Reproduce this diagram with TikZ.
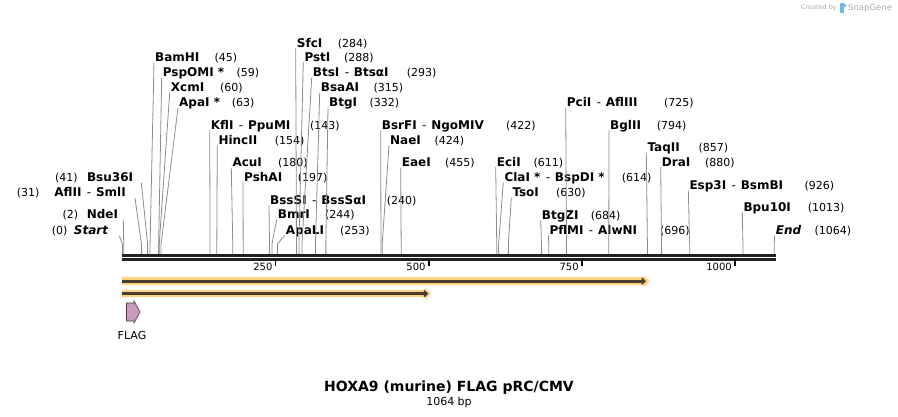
\documentclass[tikz,border=0pt]{standalone}
\usepackage{fontspec}
\setmainfont{DejaVu Sans}
\usetikzlibrary{arrows.meta,positioning}
\definecolor{leadgray}{RGB}{140,140,140}
\definecolor{bbone}{RGB}{34,34,34}
\definecolor{featorange}{RGB}{255,208,128}
\definecolor{featline}{RGB}{72,62,48}
\definecolor{flagpink}{RGB}{204,153,187}
\definecolor{sgblue}{RGB}{110,185,235}
\definecolor{sggray}{RGB}{170,170,170}

% bp -> x position on the backbone
\newcommand{\bpx}[1]{122.5+0.6125*#1}
% separator between isoschizomers
\newcommand{\enzsep}{\mdseries\hspace{0.45em}-\hspace{0.4em}\bfseries}

% site label: id, x, y, name, number x, number, bp
\newcommand{\enzyme}[7]{%
  \node[enz] (#1) at (#2,#3+4.4) {#4};
  \node[num] (#1n) at (#5,#3+4.4) {(#6)};
  \coordinate (#1b) at ({\bpx{#7}},244);
  \coordinate (#1s) at ({\bpx{#7}},254);
  \draw[lead] ([xshift=-1pt,yshift=-1pt]#1.base west) -- (#1b) -- (#1s);
}
% site label set to the left: id, x end, y, name, number x, number, bp, leader shift
\newcommand{\enzymeL}[8]{%
  \node[enz,anchor=base east] (#1) at (#2,#3+4.4) {#4};
  \node[num] (#1n) at (#5,#3+4.4) {(#6)};
  \coordinate (#1b) at ({\bpx{#7}},244);
  \coordinate (#1s) at ({\bpx{#7}},254);
  \draw[lead] ([xshift=#8pt,yshift=-1.5pt]#1.base east) -- (#1b) -- (#1s);
}

\begin{document}
\begin{tikzpicture}[x=1pt,y=-1pt]
  \tikzstyle{enz}=[anchor=base west,inner sep=0pt,font=\bfseries\fontsize{12}{14}\selectfont]
  \tikzstyle{num}=[anchor=base west,inner sep=0pt,font=\fontsize{11}{13}\selectfont]
  \tikzstyle{lead}=[leadgray,line width=0.8pt]
  \tikzstyle{tick}=[black,line width=1.6pt]
  \tikzstyle{band}=[featorange,line width=7.5pt,-{Triangle[length=6pt,width=12pt]}]
  \tikzstyle{feat}=[featline,line width=2.6pt,-{Triangle[length=4.5pt,width=8pt]}]
  \useasboundingbox (0,0) rectangle (898,417);

  % watermark
  \node[anchor=base east,inner sep=0pt,text=sggray,font=\fontsize{6.5}{7}\selectfont] (made) at (837,10) {Created by};
  \fill[sgblue] (840,3) rectangle (843.5,13);
  \fill[sgblue] (843.5,3) -- (846.5,5.5) -- (843.5,8) -- cycle;
  \node[anchor=base west,inner sep=0pt,text=sggray,font=\fontsize{8.5}{9}\selectfont] (sg) at (848,10.5) {SnapGene};

  % backbone
  \coordinate (bbA) at (122,255.3);
  \coordinate (bbB) at (776,255.3);
  \coordinate (bbC) at (122,259.7);
  \coordinate (bbD) at (776,259.7);
  \draw[bbone,line width=2.6pt] (bbA) -- (bbB);
  \draw[bbone,line width=2.6pt] (bbC) -- (bbD);

  % ruler
  \draw[tick] ({\bpx{250}},259) -- ++(0,7.5);
  \draw[tick] ({\bpx{500}},259) -- ++(0,7.5);
  \draw[tick] ({\bpx{750}},259) -- ++(0,7.5);
  \draw[tick] ({\bpx{1000}},259) -- ++(0,7.5);
  \node[num,anchor=base east,font=\fontsize{10}{12}\selectfont] (r250) at ({\bpx{250}-3},271) {250};
  \node[num,anchor=base east,font=\fontsize{10}{12}\selectfont] (r500) at ({\bpx{500}-3},271) {500};
  \node[num,anchor=base east,font=\fontsize{10}{12}\selectfont] (r750) at ({\bpx{750}-3},271) {750};
  \node[num,anchor=base east,font=\fontsize{10}{12}\selectfont] (r1000) at ({\bpx{1000}-3},271) {1000};

  % cut sites, left of the start
  \enzymeL{start}{108.3}{230}{\itshape Start}{51.7}{0}{0}{11}
  \enzymeL{ndei}{118.3}{214.3}{NdeI}{62.3}{2}{2}{5}
  \enzymeL{aflii}{126}{192.3}{AflII\enzsep SmlI}{16.7}{31}{31}{9}
  \enzymeL{bsu}{133.3}{176.7}{Bsu36I}{55}{41}{41}{8}

  % cut sites
  \enzyme{bamhi}{155}{57.3}{BamHI}{214.3}{45}{45}
  \enzyme{pspomi}{162.7}{72.3}{PspOMI *}{236.3}{59}{59}
  \enzyme{xcmi}{170.7}{87.3}{XcmI}{220}{60}{60}
  \enzyme{apai}{179}{102.3}{ApaI *}{231.7}{63}{63}
  \enzyme{kfli}{210.7}{125}{KflI\enzsep PpuMI}{310}{143}{143}
  \enzyme{hincii}{218.3}{140}{HincII}{274.7}{154}{154}
  \enzyme{acui}{232.3}{162.3}{AcuI}{278}{180}{180}
  \enzyme{pshai}{244}{176.7}{PshAI}{297.7}{197}{197}
  \enzyme{bsssi}{270}{200}{BssSI\enzsep BssSαI}{386.7}{240}{240}
  \enzyme{bmri}{277.7}{214.3}{BmrI}{325}{244}{244}
  \enzyme{apali}{285.7}{230}{ApaLI}{340}{253}{253}
  \enzyme{sfci}{296.7}{42.7}{SfcI}{337.7}{284}{284}
  \enzyme{psti}{304.3}{56.7}{PstI}{344}{288}{288}
  \enzyme{btsi}{312.7}{72.3}{BtsI\enzsep BtsαI}{406.7}{293}{293}
  \enzyme{bsaai}{320.7}{87.3}{BsaAI}{373.3}{315}{315}
  \enzyme{btgi}{329}{102.3}{BtgI}{369.3}{332}{332}
  \enzyme{bsrfi}{381.7}{125}{BsrFI\enzsep NgoMIV}{506}{422}{422}
  \enzyme{naei}{390}{140}{NaeI}{434.3}{424}{424}
  \enzyme{eaei}{401.7}{162.3}{EaeI}{445}{455}{455}
  \enzyme{ecii}{496.7}{161.7}{EciI}{533.3}{611}{611}
  \enzyme{clai}{504.3}{177.3}{ClaI *\enzsep BspDI *}{621.7}{614}{614}
  \enzyme{tsoi}{512.3}{192.3}{TsoI}{556}{630}{630}
  \enzyme{btgzi}{541.7}{215}{BtgZI}{590.7}{684}{684}
  \enzyme{pflmi}{549.3}{230}{PflMI\enzsep AlwNI}{660}{696}{696}
  \enzyme{pcii}{566.7}{102.3}{PciI\enzsep AflIII}{664}{725}{725}
  \enzyme{bglii}{610}{125}{BglII}{656.7}{794}{794}
  \enzyme{taqii}{647.3}{147.3}{TaqII}{698.3}{857}{857}
  \enzyme{drai}{661.7}{161.7}{DraI}{705}{880}{880}
  \enzyme{esp}{689.3}{185}{Esp3I\enzsep BsmBI}{804.3}{926}{926}
  \enzyme{bpu}{743.3}{206.7}{Bpu10I}{807.7}{1013}{1013}
  \enzyme{end}{775.7}{230}{\itshape End}{814.3}{1064}{1064}

  % features
  \coordinate (f1a) at (122,281.2);
  \coordinate (f1b) at (649.5,281.2);
  \coordinate (f1c) at (646,281.2);
  \coordinate (f2a) at (122,293.7);
  \coordinate (f2b) at (431,293.7);
  \coordinate (f2c) at (428.3,293.7);
  \draw[band] (f1a) -- (f1b);
  \draw[feat] (f1a) -- (f1c);
  \draw[band] (f2a) -- (f2b);
  \draw[feat] (f2a) -- (f2c);
  \filldraw[fill=flagpink,draw=featline,line width=0.6pt]
    (126.5,303) -- (134,303) -- (134,301) -- (140,312) -- (134,323) -- (134,321) -- (126.5,321) -- cycle;
  \node[num,anchor=base] (flag) at (132,339) {FLAG};

  % title
  \node[anchor=base,inner sep=0pt,font=\bfseries\fontsize{14}{16}\selectfont] (title) at (449,391) {HOXA9 (murine) FLAG pRC/CMV};
  \node[num,anchor=base] (size) at (449,405.5) {1064 bp};
\end{tikzpicture}
\end{document}
